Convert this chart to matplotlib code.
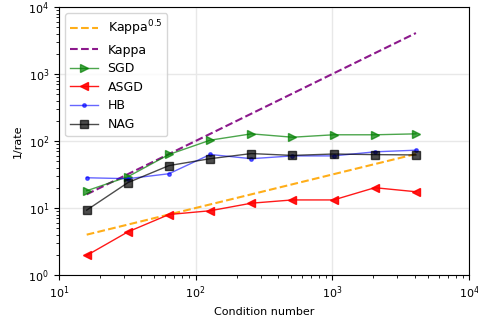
import matplotlib
matplotlib.use("Agg")
import matplotlib.pyplot as plt
import numpy as np

kappa = [16, 32, 64, 128, 256, 512, 1024, 2048, 4096]
sgd = [18.1, 29.3, 63, 103, 128, 114, 124, 124, 128]
asgd = [1.96, 4.4, 8.0, 9.1, 11.8, 13.2, 13.2, 20.1, 17.5]
hb = [28.3, 27.4, 32.5, 63, 54.5, 60, 60, 69, 73]
nag = [9.3, 23.9, 43, 54.5, 65, 61, 64, 62.7, 62]

k = np.array(kappa, dtype=float)

fig = plt.figure(figsize=(4.78, 3.22), dpi=100)
ax = fig.add_axes([0.123, 0.146, 0.858, 0.832])
ax.plot(k, k ** 0.5, '--', color='orange', label='Kappa$^{0.5}$', alpha=0.9, lw=1.5)
ax.plot(k, k, '--', color='purple', label='Kappa', alpha=0.9, lw=1.5)
ax.plot(k, sgd, '>-', color='green', label='SGD', alpha=0.7, lw=1, ms=6)
ax.plot(k, asgd, '<-', color='red', label='ASGD', alpha=0.9, lw=1, ms=6)
ax.plot(k, hb, '.-', color='blue', label='HB', alpha=0.6, lw=1, ms=5)
ax.plot(k, nag, 's-', color='black', label='NAG', alpha=0.7, lw=1, ms=6)
ax.set_xscale('log')
ax.set_yscale('log')
ax.set_xlim(10, 1e4)
ax.set_ylim(1, 1e4)
ax.grid(True, which='major', color='#e8e8e8', lw=1)
ax.set_xlabel('Condition number', fontsize=8)
ax.set_ylabel('1/rate', fontsize=8)
ax.tick_params(labelsize=8)
ax.legend(loc='upper left', fontsize=9, labelspacing=0.45, handlelength=2.2)
fig.savefig('out.png', dpi=100)
